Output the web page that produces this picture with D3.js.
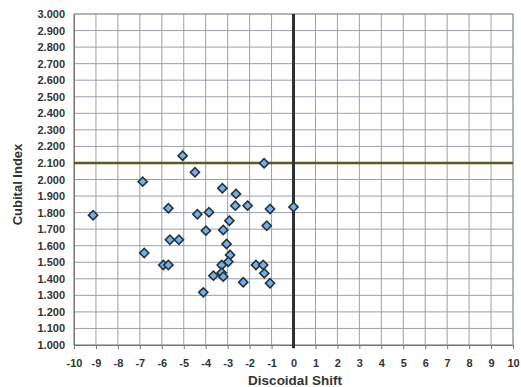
<!DOCTYPE html>
<html><head><meta charset="utf-8">
<script src="https://cdn.jsdelivr.net/npm/d3@7"></script>
<style>body{margin:0;background:#fff}svg{display:block}text{font-family:"Liberation Sans",Arial,sans-serif;font-weight:bold;fill:#333}</style>
</head><body>
<svg id="c" width="521" height="387"></svg>
<script>
const xShift = [-9.13,-6.87,-6.80,-5.93,-5.70,-5.70,-5.63,-5.22,-5.05,-4.49,-4.38,-3.85,-3.99,-4.11,-3.24,-3.20,-2.92,-3.05,-2.89,-2.97,-3.27,-3.65,-3.27,-3.20,-2.62,-2.65,-2.09,-2.29,-1.34,-1.22,-1.07,-1.71,-1.38,-1.33,-1.07,0.0];
const yIndex = [1.784,1.987,1.556,1.483,1.483,1.826,1.636,1.636,2.144,2.044,1.790,1.802,1.691,1.318,1.947,1.695,1.751,1.610,1.544,1.503,1.483,1.419,1.437,1.413,1.913,1.842,1.842,1.379,2.098,1.721,1.822,1.483,1.483,1.433,1.373,1.834];
const xTicks = d3.range(-10, 11, 1);
const yTicks = d3.range(10, 31, 1).map(v => v / 10);
const refX = 0, refY = 2.1;

const svg = d3.select("#c");
const L = 74, R = 513, T = 14, B = 345;
const x = d3.scaleLinear().domain([-10, 10]).range([L, R]);
const y = d3.scaleLinear().domain([1, 3]).range([B, T]);

const g = svg.append("g");
g.selectAll(".vg").data(xTicks).join("line")
  .attr("x1", d => x(d)).attr("x2", d => x(d)).attr("y1", T).attr("y2", B)
  .attr("stroke", "#9a9fab").attr("stroke-width", 1);
g.selectAll(".hg").data(yTicks).join("line")
  .attr("x1", L).attr("x2", R).attr("y1", d => y(d)).attr("y2", d => y(d))
  .attr("stroke", "#9a9fab").attr("stroke-width", 1);
g.append("rect").attr("x", L).attr("y", T).attr("width", R - L).attr("height", B - T)
  .attr("fill", "none").attr("stroke", "#8fa08f").attr("stroke-width", 1);

const xa = svg.append("g").attr("transform", `translate(0,${B})`)
  .call(d3.axisBottom(x).tickValues(xTicks).tickSize(4).tickPadding(10).tickFormat(d => String(d)));
xa.select(".domain").attr("stroke", "#777");
xa.selectAll(".tick line").attr("stroke", "#777");
xa.selectAll("text").attr("font-size", 11).attr("fill", "#333");
const ya = svg.append("g").attr("transform", `translate(${L},0)`)
  .call(d3.axisLeft(y).tickValues(yTicks).tickSize(0).tickPadding(9).tickFormat(d3.format(".3f")));
ya.select(".domain").attr("stroke", "#777");
ya.selectAll("text").attr("font-size", 11).attr("fill", "#333");
svg.selectAll(".tick text").attr("font-family", "Liberation Sans, Arial, sans-serif").attr("font-weight", "bold");

svg.append("line").attr("x1", L).attr("x2", R).attr("y1", y(refY)).attr("y2", y(refY))
  .attr("stroke", "#5c5a22").attr("stroke-width", 2.5);
svg.append("line").attr("x1", x(refX)).attr("x2", x(refX)).attr("y1", T).attr("y2", B + 3)
  .attr("stroke", "#2f3033").attr("stroke-width", 3);

const pts = xShift.map((v, i) => [v, yIndex[i]]);
svg.selectAll(".pt").data(pts).join("path")
  .attr("d", d3.symbol(d3.symbolSquare, 42)())
  .attr("transform", d => `translate(${x(d[0])},${y(d[1])}) rotate(45)`)
  .attr("fill", "#7aaee0").attr("stroke", "#24323f").attr("stroke-width", 1.6);

svg.append("text").attr("x", 295).attr("y", 385).attr("text-anchor", "middle")
  .attr("font-size", 13.5).text("Discoidal Shift");
svg.append("text").attr("transform", `translate(22,${(T + B) / 2 + 5}) rotate(-90)`)
  .attr("text-anchor", "middle").attr("font-size", 13).text("Cubital Index");
</script>
</body></html>
